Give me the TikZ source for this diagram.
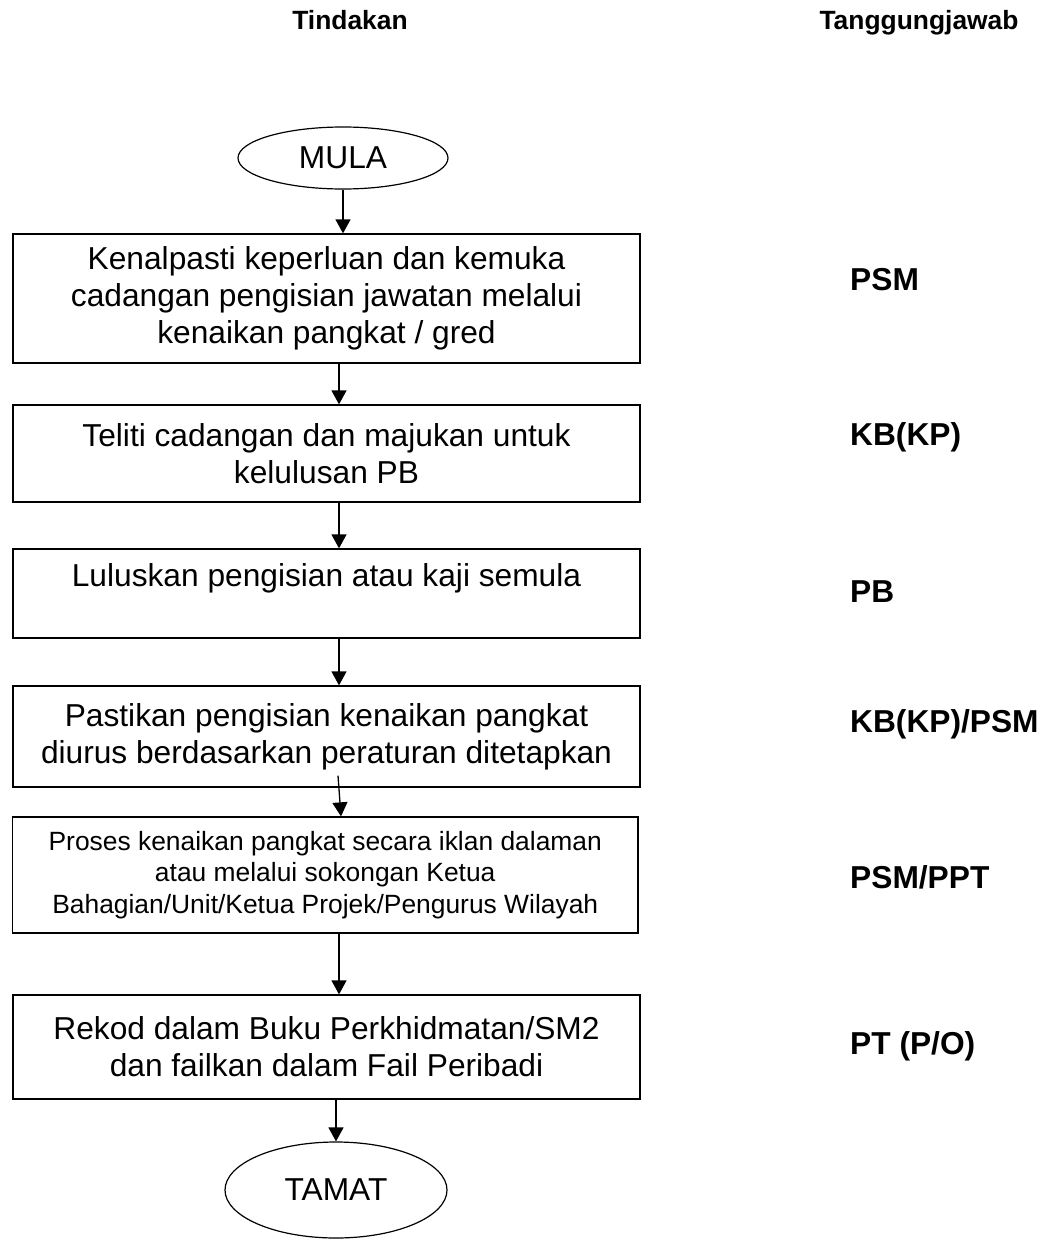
\documentclass[tikz,border=0pt]{standalone}
\usepackage{fontspec}
\setmainfont{Liberation Sans}
\usetikzlibrary{shapes.geometric,arrows.meta,calc}
\begin{document}
\begin{tikzpicture}[x=1pt,y=-1pt,
  box/.style={draw,line width=1.3pt,minimum width=627pt,inner sep=0pt,align=center,font=\fontsize{31.7}{37}\selectfont},
  term/.style={draw,ellipse,line width=1.2pt,inner sep=0pt,font=\fontsize{31.7}{37}\selectfont},
  arr/.style={line width=1.3pt,-{Triangle[length=14pt,width=15pt]}},
  resp/.style={anchor=base west,inner sep=0pt,font=\bfseries\fontsize{31.7}{37}\selectfont},
  head/.style={anchor=base,inner sep=0pt,font=\bfseries\fontsize{26.4}{30}\selectfont}]
\useasboundingbox (0,0) rectangle (1042,1239);

\node[head] (h1) at (350,30) {Tindakan};
\node[head] (h2) at (919,30) {Tanggungjawab};

\node[term,minimum width=210pt,minimum height=62pt] (mula) at (343,158) {MULA};
\node[box,minimum height=129pt] (b1) at (326.5,298.5) {Kenalpasti keperluan dan kemuka\\cadangan pengisian jawatan melalui\\kenaikan pangkat / gred};
\node[box,minimum height=97pt] (b2) at (326.5,453.5) {Teliti cadangan dan majukan untuk\\kelulusan PB};
\node[box,minimum height=89pt] (b3) at (326.5,593.5) {Luluskan pengisian atau kaji semula\\\mbox{}};
\node[box,minimum height=101pt] (b4) at (326.5,736.5) {Pastikan pengisian kenaikan pangkat\\diurus berdasarkan peraturan ditetapkan};
\node[box,minimum width=625.5pt,minimum height=116pt,font=\fontsize{26.4}{31.5}\selectfont] (b5) at (325.25,875) {Proses kenaikan pangkat secara iklan dalaman\\atau melalui sokongan Ketua\\Bahagian/Unit/Ketua Projek/Pengurus Wilayah};
\node[box,minimum height=104pt] (b6) at (326.5,1047) {Rekod dalam Buku Perkhidmatan/SM2\\dan failkan dalam Fail Peribadi};
\node[term,minimum width=222pt,minimum height=96pt] (tamat) at (336,1190) {TAMAT};

\coordinate (ax) at (339,0);
\draw[arr] (mula.south) -- (mula.south |- b1.north);
\draw[arr] (b1.south -| ax) -- (b2.north -| ax);
\draw[arr] (b2.south -| ax) -- (b3.north -| ax);
\draw[arr] (b3.south -| ax) -- (b4.north -| ax);
\draw[arr] ($(b4.south)+(11.5,-12)$) -- ($(b5.north)+(15.75,0)$);
\draw[arr] (b5.south -| ax) -- (b6.north -| ax);
\draw[arr] (b6.south -| tamat.north) -- (tamat.north);

\node[resp] (r1) at (850,290) {PSM};
\node[resp] (r2) at (850,445) {KB(KP)};
\node[resp] (r3) at (850,602) {PB};
\node[resp] (r4) at (850,732) {KB(KP)/PSM};
\node[resp] (r5) at (850,888) {PSM/PPT};
\node[resp] (r6) at (850,1054) {PT (P/O)};
\end{tikzpicture}
\end{document}
